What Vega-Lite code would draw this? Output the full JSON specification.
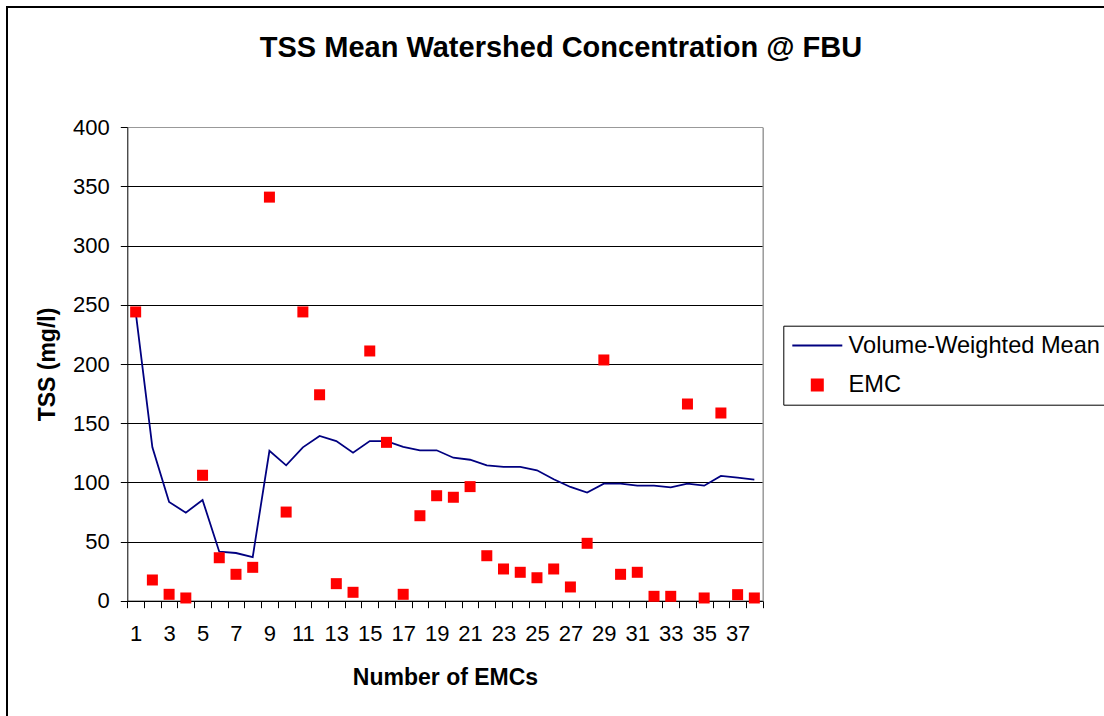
{
  "$schema": "https://vega.github.io/schema/vega-lite/v6.json",
  "autosize": {"type": "none"},
  "padding": {"left": 7, "top": 7, "right": 0, "bottom": 0},
  "width": 1097,
  "height": 709,
  "background": "white",
  "config": {
    "font": "Liberation Sans",
    "view": {"stroke": "black", "strokeWidth": 2, "strokeDash": [1097, 1806, 720]},
    "axis": {
      "labelFont": "Liberation Sans",
      "titleFont": "Liberation Sans",
      "labelColor": "black",
      "titleColor": "black",
      "domainColor": "black",
      "tickColor": "black",
      "labelFontSize": 22,
      "titleFontSize": 23,
      "titleFontWeight": "bold",
      "tickSize": 7
    }
  },
  "title": {
    "text": "TSS Mean Watershed Concentration @ FBU",
    "font": "Liberation Sans",
    "fontSize": 29,
    "fontWeight": "bold",
    "color": "black",
    "anchor": "middle",
    "frame": "group",
    "dx": 5.5,
    "dy": 79,
    "baseline": "alphabetic",
    "offset": 0
  },
  "data": {
    "values": [
      {"n": 1, "emc": 244, "vwm": 244},
      {"n": 2, "emc": 17.5, "vwm": 129.6},
      {"n": 3, "emc": 5.4, "vwm": 83.4},
      {"n": 4, "emc": 2.3, "vwm": 74.4},
      {"n": 5, "emc": 106, "vwm": 85.1},
      {"n": 6, "emc": 36.3, "vwm": 41.4},
      {"n": 7, "emc": 22.3, "vwm": 40.3},
      {"n": 8, "emc": 28.2, "vwm": 36.9},
      {"n": 9, "emc": 341, "vwm": 126.7},
      {"n": 10, "emc": 74.9, "vwm": 114.4},
      {"n": 11, "emc": 244, "vwm": 129.6},
      {"n": 12, "emc": 174, "vwm": 139.2},
      {"n": 13, "emc": 14.4, "vwm": 134.9},
      {"n": 14, "emc": 7.1, "vwm": 125.1},
      {"n": 15, "emc": 211, "vwm": 134.9},
      {"n": 16, "emc": 133.8, "vwm": 134.9},
      {"n": 17, "emc": 5.4, "vwm": 129.9},
      {"n": 18, "emc": 71.8, "vwm": 127.1},
      {"n": 19, "emc": 88.7, "vwm": 127.1},
      {"n": 20, "emc": 87.4, "vwm": 120.8},
      {"n": 21, "emc": 96.4, "vwm": 119.1},
      {"n": 22, "emc": 38, "vwm": 114.4},
      {"n": 23, "emc": 26.8, "vwm": 113},
      {"n": 24, "emc": 24, "vwm": 113},
      {"n": 25, "emc": 19.4, "vwm": 110.2},
      {"n": 26, "emc": 26.8, "vwm": 102.6},
      {"n": 27, "emc": 11.6, "vwm": 96.1},
      {"n": 28, "emc": 48.5, "vwm": 91.3},
      {"n": 29, "emc": 203.4, "vwm": 98.9},
      {"n": 30, "emc": 22.3, "vwm": 98.9},
      {"n": 31, "emc": 24, "vwm": 97.2},
      {"n": 32, "emc": 3.7, "vwm": 97.2},
      {"n": 33, "emc": 3.7, "vwm": 95.8},
      {"n": 34, "emc": 166.2, "vwm": 98.9},
      {"n": 35, "emc": 2.3, "vwm": 97.2},
      {"n": 36, "emc": 158.6, "vwm": 105.4},
      {"n": 37, "emc": 5.1, "vwm": 104},
      {"n": 38, "emc": 2.3, "vwm": 102.3}
    ]
  },
  "resolve": {"axis": {"y": "independent"}},
  "encoding": {
    "x": {
      "field": "n",
      "type": "ordinal",
      "scale": {"type": "band", "paddingInner": 0, "paddingOuter": 0, "range": [120.3, 755.7]},
      "axis": {
        "title": "Number of EMCs",
        "offset": -115.3,
        "labelAngle": 0,
        "labelOverlap": false,
        "labelExpr": "datum.value % 2 === 1 ? datum.label : ''",
        "tickBand": "extent",
        "grid": false,
        "labelPadding": 16,
        "titlePadding": 22
      }
    }
  },
  "layer": [
    {
      "mark": {"type": "line", "strokeWidth": 1.8},
      "encoding": {
        "y": {
          "field": "vwm",
          "type": "quantitative",
          "scale": {"domain": [0, 400], "nice": false, "range": [593.7, 120.3]},
          "axis": {
            "title": "TSS (mg/l)",
            "offset": -120.3,
            "values": [0, 50, 100, 150, 200, 250, 300, 350, 400],
            "gridColor": {"condition": {"test": "datum.value === 400", "value": "#999999"}, "value": "black"},
            "gridWidth": 1,
            "labelPadding": 11,
            "titlePadding": 13
          }
        },
        "color": {
          "datum": "Volume-Weighted Mean",
          "type": "nominal",
          "scale": {"domain": ["Volume-Weighted Mean", "EMC"], "range": ["#000080", "#FF0000"]},
          "legend": {
            "title": null,
            "orient": "none",
            "legendX": 776.3,
            "legendY": 318.7,
            "strokeColor": "black",
            "fillColor": "white",
            "padding": 8,
            "labelFont": "Liberation Sans",
            "labelFontSize": 23.6,
            "labelColor": "black",
            "labelLimit": 600,
            "labelOffset": 19.5,
            "rowPadding": 14.4,
            "symbolSize": 121,
            "symbolOffset": 14.2,
            "encode": {
              "symbols": {
                "update": {
                  "shape": {"signal": "datum.value === 'EMC' ? 'square' : 'M-4.545,0L4.545,0'"},
                  "size": {"value": 121},
                  "fill": {"signal": "datum.value === 'EMC' ? '#FF0000' : 'transparent'"},
                  "stroke": {"signal": "datum.value === 'EMC' ? 'transparent' : '#000080'"},
                  "strokeWidth": {"value": 2},
                  "opacity": {"value": 1}
                }
              }
            }
          }
        }
      }
    },
    {
      "mark": {"type": "point", "shape": "square", "filled": true, "size": 121, "opacity": 1},
      "encoding": {
        "y": {
          "field": "emc",
          "type": "quantitative",
          "axis": {
            "orient": "right",
            "offset": -341.3,
            "title": null,
            "labels": false,
            "ticks": false,
            "grid": false,
            "domainColor": "#999999",
            "domainWidth": 1.5
          }
        },
        "color": {"datum": "EMC", "type": "nominal"}
      }
    }
  ]
}
